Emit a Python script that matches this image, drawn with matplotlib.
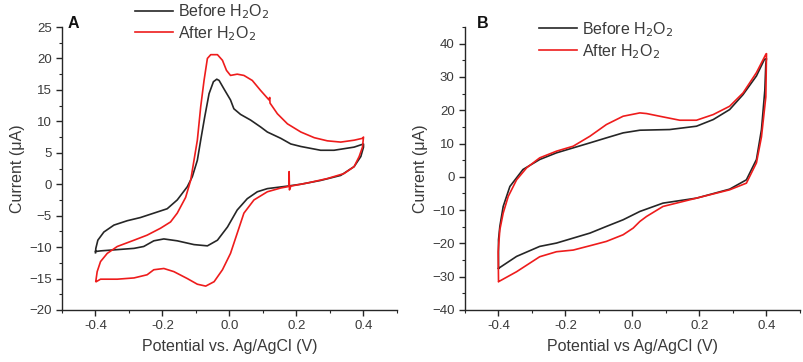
import matplotlib.pyplot as plt
from matplotlib.ticker import MultipleLocator, FormatStrFormatter

plt.rcParams['font.family'] = ['Liberation Sans', 'DejaVu Sans']

# panel A, cyclic voltammograms (potential V, current uA)
a_before_x = [-0.4, -0.385, -0.335, -0.285, -0.256, -0.226, -0.196, -0.156, -0.106, -0.066,
              -0.036, -0.006, 0.023, 0.053, 0.083, 0.113, 0.173, 0.213, 0.272, 0.332,
              0.372, 0.392, 0.4, 0.4, 0.372, 0.312, 0.272, 0.213, 0.183, 0.153,
              0.113, 0.093, 0.063, 0.033, 0.013, 0.003, -0.017, -0.031, -0.038, -0.048,
              -0.061, -0.074, -0.086, -0.096, -0.111, -0.126, -0.156, -0.186, -0.226, -0.266,
              -0.305, -0.345, -0.375, -0.393, -0.399, -0.4]
a_before_y = [-10.7, -10.6, -10.4, -10.2, -9.9, -9.0, -8.7, -9.0, -9.6, -9.8,
              -8.9, -6.8, -4.1, -2.3, -1.2, -0.7, -0.3, 0.0, 0.6, 1.4,
              2.8, 4.4, 5.9, 6.4, 5.9, 5.4, 5.4, 6.0, 6.4, 7.3,
              8.3, 9.1, 10.2, 11.1, 12.0, 13.4, 15.2, 16.5, 16.7, 16.3,
              14.4, 10.7, 7.0, 3.8, 1.2, -0.4, -2.5, -3.9, -4.6, -5.3,
              -5.8, -6.5, -7.6, -8.9, -10.2, -10.9]

a_after_x = [-0.398, -0.385, -0.335, -0.285, -0.246, -0.226, -0.196, -0.166, -0.126, -0.096,
             -0.071, -0.046, -0.021, 0.003, 0.023, 0.043, 0.073, 0.113, 0.153, 0.173,
             0.178, 0.178, 0.179, 0.183, 0.233, 0.292, 0.342, 0.372, 0.387, 0.397,
             0.4, 0.397, 0.372, 0.332, 0.292, 0.253, 0.213, 0.173, 0.143, 0.121,
             0.12, 0.118, 0.093, 0.068, 0.043, 0.023, 0.003, -0.009, -0.021, -0.036,
             -0.056, -0.066, -0.076, -0.086, -0.096, -0.106, -0.116, -0.131, -0.156, -0.176,
             -0.206, -0.246, -0.285, -0.335, -0.365, -0.385, -0.395, -0.399]
a_after_y = [-15.5, -15.1, -15.1, -14.9, -14.4, -13.6, -13.4, -13.9, -15.0, -15.9,
             -16.2, -15.5, -13.6, -11.0, -7.8, -4.6, -2.5, -1.2, -0.6, -0.4,
             -0.3, 2.0, -0.9, -0.3, 0.2, 0.9, 1.7, 2.8, 4.4, 5.9,
             7.5, 7.3, 7.0, 6.7, 6.9, 7.4, 8.3, 9.6, 11.2, 12.9,
             13.8, 13.4, 14.9, 16.5, 17.3, 17.5, 17.3, 18.1, 19.7, 20.6,
             20.6, 20.0, 16.5, 12.3, 7.0, 3.8, 0.6, -2.1, -4.6, -6.0,
             -7.0, -8.1, -8.9, -9.9, -11.0, -12.3, -13.9, -15.4]

# panel B
b_before_x = [-0.4, -0.346, -0.277, -0.227, -0.177, -0.127, -0.078, -0.028, 0.022, 0.091,
              0.191, 0.29, 0.34, 0.37, 0.385, 0.395, 0.398, 0.4, 0.394, 0.37,
              0.33, 0.29, 0.241, 0.191, 0.111, 0.022, -0.028, -0.078, -0.127, -0.177,
              -0.227, -0.277, -0.327, -0.366, -0.386, -0.396, -0.4, -0.4]
b_before_y = [-27.5, -23.9, -20.9, -19.9, -18.4, -16.9, -14.9, -12.9, -10.4, -7.9,
              -6.4, -3.7, -0.9, 5.2, 14.2, 26.0, 34.0, 35.5, 35.3, 30.3,
              24.7, 20.2, 17.2, 15.2, 14.2, 14.0, 13.2, 11.7, 10.2, 8.7,
              7.2, 5.2, 2.2, -2.9, -8.9, -14.9, -18.9, -27.5]

b_after_x = [-0.4, -0.346, -0.277, -0.227, -0.177, -0.127, -0.078, -0.028, 0.002, 0.022,
             0.042, 0.091, 0.191, 0.29, 0.34, 0.37, 0.385, 0.398, 0.4, 0.398,
             0.37, 0.33, 0.29, 0.241, 0.191, 0.141, 0.091, 0.042, 0.022, -0.028,
             -0.078, -0.127, -0.177, -0.227, -0.277, -0.316, -0.346, -0.371, -0.386, -0.396,
             -0.401, -0.4]
b_after_y = [-31.5, -28.5, -24.0, -22.5, -22.0, -20.7, -19.4, -17.4, -15.4, -13.4,
             -11.9, -8.9, -6.4, -3.9, -1.9, 4.2, 12.0, 24.0, 37.0, 36.8,
             31.3, 25.2, 21.2, 18.7, 17.0, 17.0, 18.0, 19.0, 19.2, 18.2,
             15.7, 12.2, 9.2, 7.7, 5.7, 2.7, -0.9, -5.9, -10.9, -15.9,
             -22.5, -31.0]

series_labels = ['Before H$_2$O$_2$', 'After H$_2$O$_2$']
txt = '#3a3a3a'
black = '#262626'
red = '#ee1c1c'

fig = plt.figure(figsize=(8.04, 3.62), dpi=100)
axA = fig.add_axes([62 / 804, 52 / 362, 335 / 804, 283 / 362])
axB = fig.add_axes([465 / 804, 52 / 362, 335 / 804, 283 / 362])

panels = [
    (axA, a_before_x, a_before_y, a_after_x, a_after_y, (-20, 25), 5, 2.5,
     'Potential vs. Ag/AgCl (V)', 'A', 0.218, 1.088, 0.018),
    (axB, b_before_x, b_before_y, b_after_x, b_after_y, (-40, 45), 10, 5,
     'Potential vs Ag/AgCl (V)', 'B', 0.221, 1.025, 0.036),
]

for ax, bx, by, rx, ry, ylim, ymaj, ymin, xlabel, tag, lgx, lgy, tagx in panels:
    ax.plot(bx, by, color=black, lw=1.2, label=series_labels[0])
    ax.plot(rx, ry, color=red, lw=1.2, label=series_labels[1])
    ax.set_xlim(-0.5, 0.5)
    ax.set_ylim(*ylim)
    ax.xaxis.set_major_locator(MultipleLocator(0.2))
    ax.xaxis.set_minor_locator(MultipleLocator(0.1))
    ax.yaxis.set_major_locator(MultipleLocator(ymaj))
    ax.yaxis.set_minor_locator(MultipleLocator(ymin))
    ax.xaxis.set_major_formatter(FormatStrFormatter('%.1f'))
    ax.set_xticks([-0.4, -0.2, 0.0, 0.2, 0.4])
    ax.spines['top'].set_visible(False)
    ax.spines['right'].set_visible(False)
    for s in ('left', 'bottom'):
        ax.spines[s].set_color(black)
        ax.spines[s].set_linewidth(1.0)
    ax.tick_params(which='major', direction='out', length=4, width=1.0,
                   colors=black, labelcolor=txt, labelsize=9.5)
    ax.tick_params(which='minor', direction='out', length=2.5, width=0.8, colors=black)
    ax.set_xlabel(xlabel, fontsize=11.5, color=txt, labelpad=5)
    ax.set_ylabel('Current (\u03bcA)', fontsize=11.5, color=txt, labelpad=3)
    ax.text(tagx, 1.012, tag, transform=ax.transAxes, fontsize=11.5, fontweight='bold',
            color='#111111', va='center', ha='left')
    ax.legend(loc='upper left', bbox_to_anchor=(lgx, lgy), frameon=False, fontsize=11.5,
              handlelength=2.4, handletextpad=0.3, labelspacing=0.2, borderpad=0,
              borderaxespad=0, labelcolor=txt)

fig.savefig('out.png', dpi=100)
